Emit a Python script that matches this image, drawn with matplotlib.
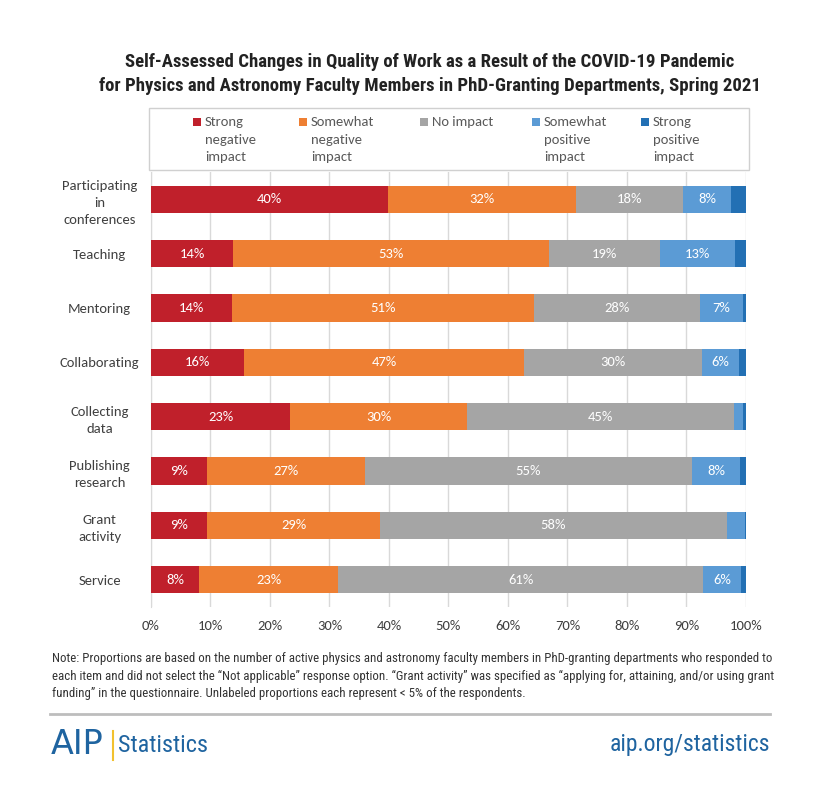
import matplotlib
matplotlib.use("Agg")
import matplotlib.pyplot as plt
from matplotlib import font_manager
from matplotlib.patches import Rectangle
from matplotlib.lines import Line2D

names = {f.name for f in font_manager.fontManager.ttflist}
def pick(cands, default="DejaVu Sans"):
    for c in cands:
        if c in names:
            return c
    return default
NARROW = pick(["Roboto Condensed", "Archivo Narrow", "Barlow Semi Condensed", "Asap Condensed"])
BODY = pick(["Carlito", "Open Sans"])

categories = ["Participating\nin\nconferences", "Teaching", "Mentoring", "Collaborating",
              "Collecting\ndata", "Publishing\nresearch", "Grant\nactivity", "Service"]
series_names = ["Strong\nnegative\nimpact", "Somewhat\nnegative\nimpact", "No impact",
                "Somewhat\npositive\nimpact", "Strong\npositive\nimpact"]
strong_neg = [39.8, 13.8, 13.6, 15.6, 23.4, 9.4, 9.4, 8.1]
some_neg = [31.6, 53.1, 50.8, 47.1, 29.7, 26.6, 29.1, 23.4]
no_impact = [18.0, 18.7, 27.9, 29.9, 44.9, 54.9, 58.3, 61.3]
some_pos = [8.1, 12.6, 7.2, 6.2, 1.5, 8.1, 3.0, 6.4]
strong_pos = [2.5, 1.8, 0.5, 1.2, 0.5, 1.0, 0.2, 0.8]
series = [strong_neg, some_neg, no_impact, some_pos, strong_pos]
colors = ["#C0202B", "#EE7F33", "#A5A5A5", "#5B9BD5", "#2370B4"]
xticks = [0, 10, 20, 30, 40, 50, 60, 70, 80, 90, 100]
xticklabels = [f"{t}%" for t in xticks]

fig = plt.figure(figsize=(8.2, 7.94), dpi=100)
ax = fig.add_axes([151/820, 1-607/794, 595/820, 435/794])

ypos = list(range(len(categories)))
left = [0.0]*len(categories)
for vals, col in zip(series, colors):
    bars = ax.barh(ypos, vals, left=left, height=0.5, color=col, edgecolor="none", zorder=3)
    for b, v in zip(bars, vals):
        if v >= 5:
            ax.text(b.get_x() + b.get_width()/2, b.get_y() + b.get_height()/2,
                    f"{v:.0f}%", ha="center", va="center", color="white",
                    fontsize=10.5, family=BODY, zorder=4)
    left = [l + v for l, v in zip(left, vals)]

ax.set_xlim(0, 100)
ax.set_ylim(len(categories)-0.5, -0.5)
ax.set_xticks(xticks)
ax.set_xticklabels(xticklabels, fontsize=10.5, color="#404040", family=BODY)
ax.set_yticks(ypos)
ax.set_yticklabels(categories, fontsize=10.5, color="#404040", family=BODY,
                   ha="center", linespacing=1.5)
ax.tick_params(axis="y", length=0, pad=37)
ax.tick_params(axis="x", length=0, pad=9)
ax.grid(axis="x", color="#d9d9d9", lw=1, zorder=0)
for s in ["top", "right", "bottom"]:
    ax.spines[s].set_visible(False)
ax.spines["left"].set_color("#d9d9d9")

# Title
fig.text(430/820, 1-62/794, "Self-Assessed Changes in Quality of Work as a Result of the COVID-19 Pandemic",
         ha="center", va="center", fontsize=13.5, fontweight="bold", family=NARROW, color="#222222")
fig.text(430/820, 1-86/794, "for Physics and Astronomy Faculty Members in PhD-Granting Departments, Spring 2021",
         ha="center", va="center", fontsize=13.5, fontweight="bold", family=NARROW, color="#222222")

# Legend box
fig.patches.append(Rectangle((149/820, 1-170/794), 600/820, 62/794, transform=fig.transFigure,
                             facecolor="white", edgecolor="#d0d0d0", lw=1))
leg_x = [197, 303, 424, 536, 645]
for xx, col, name in zip(leg_x, colors, series_names):
    fig.patches.append(Rectangle(((xx-4)/820, 1-126/794), 8/820, 8/794, transform=fig.transFigure,
                                 facecolor=col, edgecolor="none"))
    fig.text((xx+8)/820, 1-116/794, name, ha="left", va="top", fontsize=10.5, family=BODY,
             color="#595959", linespacing=1.55)

# Note
note = ("Note: Proportions are based on the number of active physics and astronomy faculty members in PhD-granting departments who responded to\n"
        "each item and did not select the \u201cNot applicable\u201d response option. \u201cGrant activity\u201d was specified as \u201capplying for, attaining, and/or using grant\n"
        "funding\u201d in the questionnaire. Unlabeled proportions each represent < 5% of the respondents.")
fig.text(52/820, 1-652/794, note, ha="left", va="top", fontsize=9.3, family=NARROW,
         color="#333333", linespacing=1.45)

# Separator
fig.lines.append(Line2D([50/820, 770/820], [1-714/794, 1-714/794], transform=fig.transFigure,
                        color="#bdbdbd", lw=2))

# Footer
blue = "#1F64A0"
fig.text(51/820, 1-745/794, "AIP", ha="left", va="center", fontsize=24, family="DejaVu Sans",
         color=blue)
fig.lines.append(Line2D([113/820, 113/820], [1-731/794, 1-760/794], transform=fig.transFigure,
                        color="#F2C12E", lw=1.5))
fig.text(118/820, 1-745/794, "Statistics", ha="left", va="center", fontsize=17.5, family=NARROW,
         color=blue)
fig.text(770/820, 1-745/794, "aip.org/statistics", ha="right", va="center", fontsize=17,
         family=NARROW, color=blue)

fig.savefig("out.png", dpi=100, facecolor="white")
